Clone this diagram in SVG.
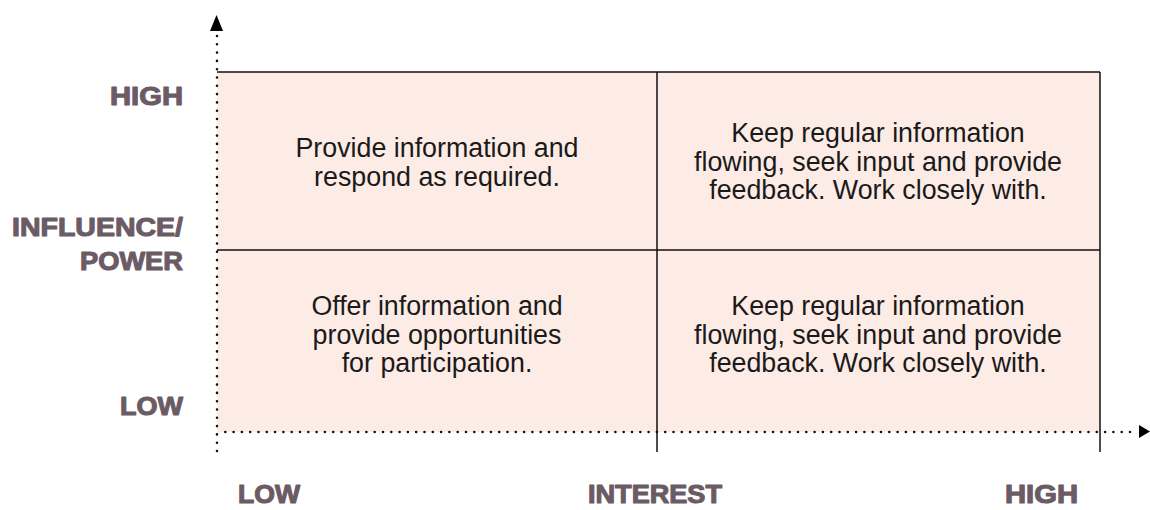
<svg xmlns="http://www.w3.org/2000/svg" width="1150" height="510" viewBox="0 0 1150 510">
<style>
.lbl{font-family:"Liberation Sans",Arial,sans-serif;font-weight:bold;font-size:26px;fill:#6b5b65;stroke:#6b5b65;stroke-width:1.1;stroke-linejoin:round}
.body{font-family:"Liberation Sans",Arial,sans-serif;font-size:26.8px;fill:#1a1a1a;text-anchor:middle}
.solid{stroke:#111;stroke-width:1.5;fill:none}
.dots{stroke:#111;stroke-width:2.6;stroke-linecap:round;stroke-dasharray:0 8.3;fill:none}
</style>
<rect x="217" y="72" width="883" height="360" fill="#fdebe5"/>
<g id="connectors">
<line class="solid" x1="217" y1="72" x2="1100" y2="72"/>
<line class="solid" x1="217" y1="250" x2="1100" y2="250"/>
<line class="solid" x1="657" y1="72" x2="657" y2="452"/>
<line class="solid" x1="1100" y1="72" x2="1100" y2="452"/>
<line class="dots" x1="217" y1="36" x2="217" y2="452"/>
<line class="dots" x1="225.3" y1="432" x2="1138" y2="432"/>
<polygon points="216.5,15 210,31 223,31" fill="#000"/>
<polygon points="1150,431.5 1139,425 1139,438" fill="#000"/>
</g>
<g id="axis-y">
<text class="lbl" x="110" y="105" textLength="73" lengthAdjust="spacingAndGlyphs">HIGH</text>
<text class="lbl" x="12" y="236" textLength="171" lengthAdjust="spacingAndGlyphs">INFLUENCE/</text>
<text class="lbl" x="80" y="270" textLength="103" lengthAdjust="spacingAndGlyphs">POWER</text>
<text class="lbl" x="120" y="415" textLength="63" lengthAdjust="spacingAndGlyphs">LOW</text>
</g>
<g id="axis-x">
<text class="lbl" x="238" y="503" textLength="62" lengthAdjust="spacingAndGlyphs">LOW</text>
<text class="lbl" x="588" y="503" textLength="134" lengthAdjust="spacingAndGlyphs">INTEREST</text>
<text class="lbl" x="1005" y="503" textLength="73" lengthAdjust="spacingAndGlyphs">HIGH</text>
</g>
<g id="q-top-left">
<text class="body" x="437" y="157">Provide information and</text>
<text class="body" x="437" y="186">respond as required.</text>
</g>
<g id="q-top-right">
<text class="body" x="878" y="142">Keep regular information</text>
<text class="body" x="878" y="171">flowing, seek input and provide</text>
<text class="body" x="878" y="199">feedback. Work closely with.</text>
</g>
<g id="q-bottom-left">
<text class="body" x="437" y="315">Offer information and</text>
<text class="body" x="437" y="344">provide opportunities</text>
<text class="body" x="437" y="372">for participation.</text>
</g>
<g id="q-bottom-right">
<text class="body" x="878" y="315">Keep regular information</text>
<text class="body" x="878" y="344">flowing, seek input and provide</text>
<text class="body" x="878" y="372">feedback. Work closely with.</text>
</g>
</svg>
